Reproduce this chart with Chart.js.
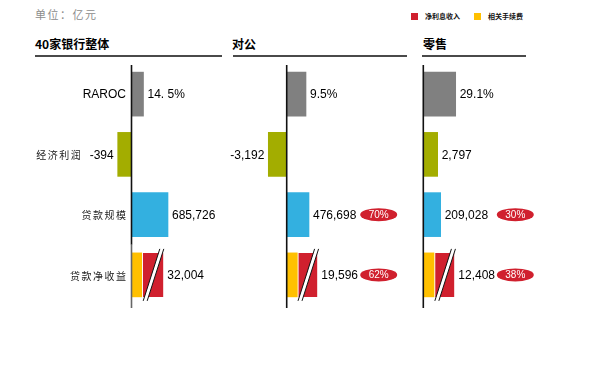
<!DOCTYPE html>
<html>
<head>
<meta charset="utf-8">
<script src="https://cdn.jsdelivr.net/npm/chart.js@4.4.0/dist/chart.umd.min.js"></script>
<style>
    body { margin: 0; background: #fff; width: 597px; height: 378px; position: relative; overflow: hidden; }
    canvas { position: absolute; top: 60px; }
    .t { position: absolute; white-space: nowrap; }
    .unit { left: 35px; top: 6px; font: 11px "Noto Sans CJK SC"; line-height: 16px; color: #8c8c8c; letter-spacing: 1.5px; }
    .title { top: 37px; font: bold 12px "Noto Sans CJK SC"; line-height: 14px; color: #000; }
    .rule { position: absolute; top: 55px; height: 2px; background: #4a4a4a; }
    .lg { top: 11px; font: bold 7px "Noto Sans CJK SC"; line-height: 10px; color: #111; }
    .sw { position: absolute; top: 13px; width: 7px; height: 7px; }
</style>
</head>
<body>
<div class="t unit">单位：亿元</div>

<div class="sw" style="left:411px;background:#d0202e"></div>
<div class="t lg" style="left:425px">净利息收入</div>
<div class="sw" style="left:474px;background:#ffc000"></div>
<div class="t lg" style="left:488px">相关手续费</div>

<div class="t title" id="title0" style="left:35px"></div>
<div class="t title" id="title1" style="left:232px"></div>
<div class="t title" id="title2" style="left:423px"></div>
<div class="rule" style="left:35px;width:187px"></div>
<div class="rule" style="left:233px;width:174px"></div>
<div class="rule" style="left:422px;width:104px"></div>

<canvas id="total" width="222" height="252" style="left:0px"></canvas>
<canvas id="corp" width="195" height="252" style="left:222px"></canvas>
<canvas id="retail" width="180" height="252" style="left:417px"></canvas>

<script>
const categories = ['RAROC', '经济利润', '贷款规模', '贷款净收益'];
const panelTitles = ['40家银行整体', '对公', '零售'];

// bar lengths as drawn in the picture (schematic, rows are not on a common scale)
const totalBars = [12, -13.8, 36.5];
const corpBars = [19.3, -18.4, 22.3];
const retailBars = [32.4, 14.4, 17.4];
// 贷款净收益 split: 相关手续费 (yellow) then 净利息收入 (red), one entry per panel
const feeBars = [10.2, 10.6, 10.7];
const nimBars = [21.6, 20, 20.3];

// printed values
const totalLabels = ['14. 5%', '-394', '685,726', '32,004'];
const corpLabels = ['9.5%', '-3,192', '476,698', '19,596'];
const retailLabels = ['29.1%', '2,797', '209,028', '12,408'];
const corpShare = [null, null, '70%', '62%'];
const retailShare = [null, null, '30%', '38%'];

const rowColors = ['#808080', '#a3ad00', '#33b0e0', '#33b0e0'];

panelTitles.forEach((t, i) => { document.getElementById('title' + i).textContent = t; });

const panelDecor = {
    id: 'panelDecor',
    afterDatasetsDraw(chart, args, o) {
        const ctx = chart.ctx;
        const area = chart.chartArea;
        const x0 = chart.scales.x.getPixelForValue(0);
        const metas = chart.data.datasets.map((d, k) => chart.getDatasetMeta(k));

        // break mark across the net interest bar
        const nb = metas[2].data[3];
        if (nb) {
            const h = nb.height / 2 + 4;
            const c = (nb.x + nb.base) / 2 + 1;
            const s = 8.3, w = 2;
            ctx.save();
            ctx.beginPath();
            ctx.moveTo(c + s - w, nb.y - h);
            ctx.lineTo(c + s + w, nb.y - h);
            ctx.lineTo(c - s + w, nb.y + h);
            ctx.lineTo(c - s - w, nb.y + h);
            ctx.closePath();
            ctx.fillStyle = '#fff';
            ctx.fill();
            ctx.strokeStyle = '#111';
            ctx.lineWidth = 1;
            ctx.beginPath();
            ctx.moveTo(c + s - w, nb.y - h); ctx.lineTo(c - s - w, nb.y + h);
            ctx.moveTo(c + s + w, nb.y - h); ctx.lineTo(c - s + w, nb.y + h);
            ctx.stroke();
            ctx.restore();
        }

        // zero axis
        const yScale = chart.scales.y;
        const split = (yScale.getPixelForValue(2) + yScale.getPixelForValue(3)) / 2;
        ctx.save();
        ctx.lineWidth = 1.6;
        ctx.strokeStyle = '#111';
        ctx.beginPath();
        ctx.moveTo(x0, area.top + 1);
        ctx.lineTo(x0, o.grayTail ? split : area.bottom + 3);
        ctx.stroke();
        if (o.grayTail) {
            ctx.strokeStyle = '#666';
            ctx.beginPath();
            ctx.moveTo(x0, split);
            ctx.lineTo(x0, area.bottom + 3);
            ctx.stroke();
        }
        ctx.restore();

        // value labels, category labels, share badges
        ctx.save();
        ctx.textBaseline = 'middle';
        chart.data.labels.forEach((cat, i) => {
            let lo = x0, hi = x0, y = null;
            metas.forEach((m, k) => {
                const v = chart.data.datasets[k].data[i];
                if (v == null) return;
                const el = m.data[i];
                lo = Math.min(lo, el.x, el.base);
                hi = Math.max(hi, el.x, el.base);
                y = el.y;
            });
            if (y == null) return;
            const txt = o.values[i];
            ctx.font = '12px "Liberation Sans", Arial, sans-serif';
            ctx.fillStyle = '#000';
            let catRight = x0 - 5.5;
            if (lo < x0 - 0.5) {
                ctx.textAlign = 'right';
                ctx.fillText(txt, lo - 4, y + 1);
                catRight = lo - 4 - ctx.measureText(txt).width - 9;
            } else {
                ctx.textAlign = 'left';
                ctx.fillText(txt, hi + 4, y + 1);
            }
            if (o.showCategories) {
                ctx.textAlign = 'right';
                if (/[\u4e00-\u9fff]/.test(cat)) {
                    ctx.font = '10px "Noto Sans CJK SC"';
                    ctx.letterSpacing = '1.5px';
                    ctx.fillStyle = '#222';
                    ctx.fillText(cat, catRight + 1.5, y + 1);
                    ctx.letterSpacing = '0px';
                } else {
                    ctx.fillStyle = '#000';
                    ctx.fillText(cat, catRight, y + 1);
                }
            }
            if (o.share && o.share[i] != null) {
                const bx = x0 + 92;
                ctx.beginPath();
                ctx.ellipse(bx, y, 18.5, 6.5, 0, 0, Math.PI * 2);
                ctx.fillStyle = '#d0202e';
                ctx.fill();
                ctx.fillStyle = '#fff';
                ctx.font = '10px "Liberation Sans", Arial, sans-serif';
                ctx.textAlign = 'center';
                ctx.fillText(o.share[i], bx, y + 0.5);
            }
        });
        ctx.restore();
    }
};

function makePanel(id, bars, fee, nim, labels, xMin, xMax, extra) {
    const ctx = document.getElementById(id).getContext('2d');
    return new Chart(ctx, {
        type: 'bar',
        data: {
            labels: categories,
            datasets: [
                {
                    data: [...bars, null],
                    backgroundColor: rowColors,
                    barThickness: 44
                },
                {
                    data: [null, null, null, fee],
                    backgroundColor: '#ffc000',
                    barThickness: 44
                },
                {
                    data: [null, null, null, nim],
                    backgroundColor: '#d0202e',
                    borderColor: '#ffffff',
                    borderWidth: { left: 1.6, top: 0, right: 0, bottom: 0 },
                    borderSkipped: false,
                    barThickness: 44
                }
            ]
        },
        options: {
            indexAxis: 'y',
            responsive: false,
            animation: false,
            devicePixelRatio: 1,
            events: [],
            layout: { padding: { top: 4, bottom: 7, left: 0, right: 0 } },
            scales: {
                x: { display: false, stacked: true, min: xMin, max: xMax },
                y: { display: false, stacked: true }
            },
            plugins: {
                legend: { display: false },
                tooltip: { enabled: false },
                panelDecor: Object.assign({ values: labels }, extra)
            }
        },
        plugins: [panelDecor]
    });
}

makePanel('total', totalBars, feeBars[0], nimBars[0], totalLabels, -131.5, 90.5, { showCategories: true, grayTail: true });
makePanel('corp', corpBars, feeBars[1], nimBars[1], corpLabels, -64.7, 130.3, { share: corpShare });
makePanel('retail', retailBars, feeBars[2], nimBars[2], retailLabels, -6.3, 173.7, { share: retailShare });
</script>
</body>
</html>
